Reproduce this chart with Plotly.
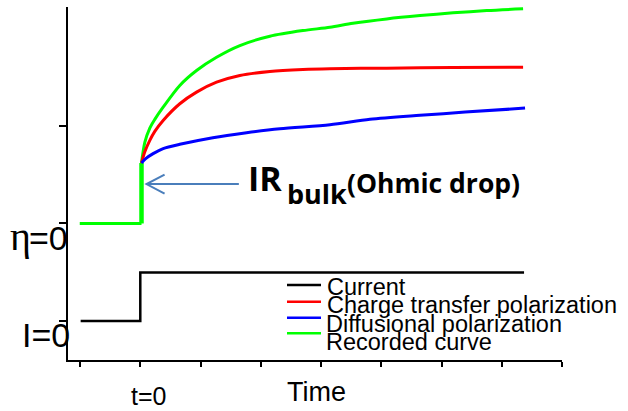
import plotly.graph_objects as go

# ---- data (time in tick units, potential in level units) ----
series_names = ["Current", "Charge transfer polarization",
                "Diffusional polarization", "Recorded curve"]
series_colors = ["#000000", "#ff0000", "#0000ff", "#00ff00"]

# applied current step
current_t = [-0.99, 0.0, 0.0, 6.37]
current_v = [0.0, 0.0, 0.498, 0.498]

# recorded potential before the step and the ohmic jump
baseline_t = [-1.005, 0.02]
baseline_v = [1.0, 1.0]
ohmic_t = [0.02, 0.02]
ohmic_v = [1.0, 1.62]

# charge transfer polarization
ct_t = [0.02, 0.075, 0.158, 0.241, 0.379, 0.656, 0.934, 1.266, 1.653,
        2.151, 2.699, 3.148, 4.090, 5.191, 6.354]
ct_v = [1.620, 1.735, 1.853, 1.945, 2.057, 2.228, 2.347, 2.449, 2.518,
        2.559, 2.579, 2.587, 2.593, 2.600, 2.603]

# diffusional polarization
diff_t = [0.02, 0.09, 0.213, 0.379, 0.656, 1.204, 1.764, 2.317, 3.148,
          3.812, 4.643, 5.392, 6.387]
diff_v = [1.620, 1.665, 1.716, 1.768, 1.812, 1.880, 1.931, 1.972, 2.013,
          2.068, 2.109, 2.142, 2.183]

# recorded curve
rec_t = [0.02, 0.075, 0.158, 0.241, 0.379, 0.656, 0.934, 1.266, 1.653,
         2.151, 2.699, 3.148, 3.530, 4.090, 4.643, 5.191, 5.751, 6.354]
rec_v = [1.620, 1.832, 1.979, 2.068, 2.193, 2.416, 2.569, 2.705, 2.825,
         2.920, 2.978, 3.012, 3.053, 3.098, 3.132, 3.160, 3.183, 3.201]

x_ticks = [-1, 0, 1, 2, 3, 4, 5, 6, 7]
y_ticks = [0, 1, 2]

# ---- figure geometry ----
W, H = 628, 411
ML, MR, MT, MB = 68, 66, 7, 51
PW, PH = W - ML - MR, H - MT - MB


def paper(xp, yp):
    """pixel position -> paper coordinates"""
    return (xp - ML) / PW, (H - MB - yp) / PH


def label(xp, yp, text, size, family, xanchor="left"):
    x, y = paper(xp, yp)
    return dict(xref="paper", yref="paper", x=x, y=y, text=text,
                showarrow=False, xanchor=xanchor, yanchor="middle",
                font=dict(family=family, size=size, color="black"))


SANS = "Liberation Sans, Arial"
BOLD = "Open Sans"

fig = go.Figure()

fig.add_trace(go.Scatter(x=current_t, y=current_v, mode="lines",
                         line=dict(color=series_colors[0], width=2.5),
                         name=series_names[0]))
fig.add_trace(go.Scatter(x=baseline_t, y=baseline_v, mode="lines",
                         line=dict(color=series_colors[3], width=3),
                         hoverinfo="skip"))
fig.add_trace(go.Scatter(x=ohmic_t, y=ohmic_v, mode="lines",
                         line=dict(color=series_colors[3], width=4.5),
                         hoverinfo="skip"))
fig.add_trace(go.Scatter(x=rec_t, y=rec_v, mode="lines",
                         line=dict(color=series_colors[3], width=3,
                                   shape="spline", smoothing=0.8),
                         name=series_names[3]))
fig.add_trace(go.Scatter(x=ct_t, y=ct_v, mode="lines",
                         line=dict(color=series_colors[1], width=3,
                                   shape="spline", smoothing=0.8),
                         name=series_names[1]))
fig.add_trace(go.Scatter(x=diff_t, y=diff_v, mode="lines",
                         line=dict(color=series_colors[2], width=3,
                                   shape="spline", smoothing=0.8),
                         name=series_names[2]))

shapes = []
annotations = []

# legend drawn by hand (tight, overlapping rows)
sample_y = [285, 301.7, 317.7, 333.3]
text_y = [287.0, 305.2, 323.6, 341.9]
text_x = [325, 325, 324, 324]
for name, col, sy, ty, tx in zip(series_names, series_colors, sample_y, text_y, text_x):
    x0, y0 = paper(287, sy)
    x1, _ = paper(321, sy)
    shapes.append(dict(type="line", xref="paper", yref="paper",
                       x0=x0, x1=x1, y0=y0, y1=y0,
                       line=dict(color=col, width=2.5)))
    annotations.append(label(tx, ty, name, 23.5, SANS))

# arrow pointing at the ohmic jump
arrow_tip = (0.103, 1.404)
arrow_tail_x = 1.636
arm_dx, arm_dy = 0.30, 0.098
shapes.append(dict(
    type="path", xref="x", yref="y",
    path=(f"M{arrow_tail_x},{arrow_tip[1]} L{arrow_tip[0]},{arrow_tip[1]} "
          f"M{arrow_tip[0] + arm_dx},{arrow_tip[1] + arm_dy} "
          f"L{arrow_tip[0]},{arrow_tip[1]} "
          f"L{arrow_tip[0] + arm_dx},{arrow_tip[1] - arm_dy}"),
    line=dict(color="#4a7ebb", width=2)))

annotations.append(label(246, 178, "<b>IR</b>", 34, BOLD))
annotations.append(label(285, 193, "<b>bulk</b>", 27, BOLD))
annotations.append(label(345, 183, "<b>(Ohmic drop)</b>", 26.5, BOLD))

# level labels on the left
annotations.append(label(72, 334.7, "I=0", 34, SANS, "right"))
annotations.append(label(70, 237.5, "=0", 34, SANS, "right"))
annotations.append(label(33, 237, "η", 40, "Liberation Serif, Times New Roman",
                         "right"))

# time axis labels
annotations.append(label(148, 396, "t=0", 25, SANS, "center"))
annotations.append(label(316, 392, "Time", 27, SANS, "center"))

fig.update_layout(
    width=W, height=H,
    margin=dict(l=ML, r=MR, t=MT, b=MB, pad=0),
    paper_bgcolor="white", plot_bgcolor="white",
    shapes=shapes, annotations=annotations,
    showlegend=False,
    xaxis=dict(range=[-1.2, 7.0], tickvals=x_ticks, showticklabels=False,
               ticks="outside", ticklen=5, tickwidth=1.5, tickcolor="black",
               showline=True, linecolor="black", linewidth=1.5,
               showgrid=False, zeroline=False),
    yaxis=dict(range=[-0.4, 3.22], tickvals=y_ticks, showticklabels=False,
               ticks="outside", ticklen=7, tickwidth=1.5, tickcolor="black",
               showline=True, linecolor="black", linewidth=2,
               showgrid=False, zeroline=False),
)

fig.write_html("out.html")
